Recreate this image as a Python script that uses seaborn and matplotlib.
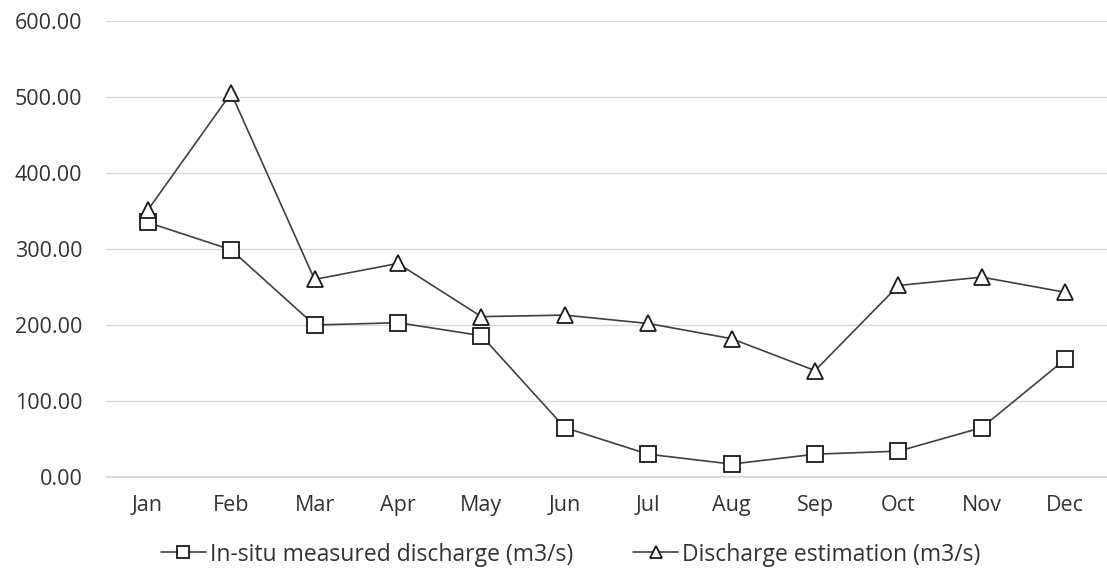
import matplotlib
matplotlib.use("Agg")
import matplotlib.pyplot as plt
import seaborn as sns
import pandas as pd

months = ["Jan", "Feb", "Mar", "Apr", "May", "Jun", "Jul", "Aug", "Sep", "Oct", "Nov", "Dec"]
measured = [335, 299, 200, 203, 186, 65, 30, 17, 30, 34, 65, 155]
estimated = [351, 505, 260, 281, 211, 213, 202, 182, 140, 252, 263, 243]
yticks = [0, 100, 200, 300, 400, 500, 600]

sns.set_theme(style="white")
plt.rcParams['font.family'] = ['Open Sans', 'DejaVu Sans']

df = pd.DataFrame({"month": months, "measured": measured, "estimated": estimated})

fig = plt.figure(figsize=(11.07, 5.76), dpi=100)
ax = fig.add_axes([106 / 1107, 99 / 576, 1 - 106 / 1107, 456 / 576])

line_kw = dict(color="#404040", linewidth=1.2, markersize=12,
               markerfacecolor="white", markeredgecolor="#1a1a1a", markeredgewidth=1.3)
sns.lineplot(data=df, x="month", y="measured", sort=False, marker="s",
             label="In-situ measured discharge (m3/s)", ax=ax, **line_kw)
sns.lineplot(data=df, x="month", y="estimated", sort=False, marker="^",
             label="Discharge estimation (m3/s)", ax=ax, **line_kw)

ax.set_xlim(-0.5, 11.5)
ax.set_ylim(0, 600)
ax.set_yticks(yticks)
ax.set_yticklabels([f"{v:.2f}" for v in yticks])
ax.yaxis.grid(True, color="#d9d9d9", linewidth=1)
ax.set_axisbelow(True)
for s in ["top", "right", "left"]:
    ax.spines[s].set_visible(False)
ax.spines["bottom"].set_color("#d9d9d9")
ax.tick_params(axis="both", length=0, labelsize=15.5, colors="#333333")
ax.tick_params(axis="y", pad=17)
ax.tick_params(axis="x", pad=13)
ax.set_xlabel("")
ax.set_ylabel("")

leg = ax.legend(loc="center", bbox_to_anchor=(0.4645, -0.17), ncol=2, frameon=False,
                fontsize=16.5, handlelength=1.95, columnspacing=2.6, handletextpad=0.2,
                markerscale=0.75)
for t in leg.get_texts():
    t.set_color("#333333")

fig.savefig("out.png", dpi=100)
